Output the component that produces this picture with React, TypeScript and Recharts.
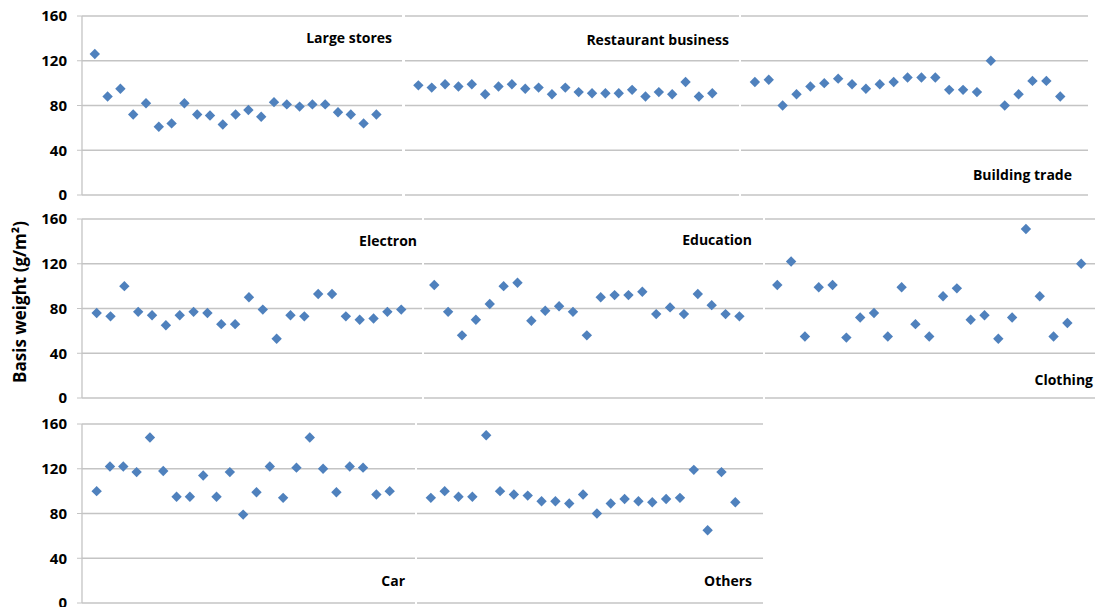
import React from 'react';
import { CartesianGrid, Scatter, ScatterChart, XAxis, YAxis } from 'recharts';

// basis weight (g/m2), one value per sample
const largeStores = [126, 88, 95, 72, 82, 61, 64, 82, 72, 71, 63, 72, 76, 70, 83, 81, 79, 81, 81, 74, 72, 64, 72];
const restaurantBusiness = [98, 96, 99, 97, 99, 90, 97, 99, 95, 96, 90, 96, 92, 91, 91, 91, 94, 88, 92, 90, 101, 88, 91];
const buildingTrade = [101, 103, 80, 90, 97, 100, 104, 99, 95, 99, 101, 105, 105, 105, 94, 94, 92, 120, 80, 90, 102, 102, 88];
const electron = [76, 73, 100, 77, 74, 65, 74, 77, 76, 66, 66, 90, 79, 53, 74, 73, 93, 93, 73, 70, 71, 77, 79];
const education = [101, 77, 56, 70, 84, 100, 103, 69, 78, 82, 77, 56, 90, 92, 92, 95, 75, 81, 75, 93, 83, 75, 73];
const clothing = [101, 122, 55, 99, 101, 54, 72, 76, 55, 99, 66, 55, 91, 98, 70, 74, 53, 72, 151, 91, 55, 67, 120];
const car = [100, 122, 122, 117, 148, 118, 95, 95, 114, 95, 117, 79, 99, 122, 94, 121, 148, 120, 99, 122, 121, 97, 100];
const others = [94, 100, 95, 95, 150, 100, 97, 96, 91, 91, 89, 97, 80, 89, 93, 91, 90, 93, 94, 119, 65, 117, 90];

const yTicks = [0, 40, 80, 120, 160];
const yTitle = 'Basis weight (g/m²)';

const pointColor = '#4f81bd';
const gridColor = '#c4c4c4';
const font = '"Open Sans", "Noto Sans", sans-serif';
const PLOT_H = 179;
const PAD = 10;

const toPoints = (values: number[]) => values.map((v, i) => ({ x: i + 1, y: v }));

const panels = [
    { name: 'Large stores', values: largeStores, left: 82, right: 402, top: 16, xDomain: [0, 25], labelRight: 392, labelY: 38, first: true },
    { name: 'Restaurant business', values: restaurantBusiness, left: 405, right: 739, top: 16, xDomain: [0, 25], labelRight: 729, labelY: 40 },
    { name: 'Building trade', values: buildingTrade, left: 741, right: 1088, top: 16, xDomain: [0, 25], labelRight: 1072, labelY: 175 },
    { name: 'Electron', values: electron, left: 82, right: 422, top: 219, xDomain: [-0.06, 24.5], labelRight: 417, labelY: 241, first: true },
    { name: 'Education', values: education, left: 424, right: 763, top: 219, xDomain: [0.26, 24.7], labelRight: 752, labelY: 240 },
    { name: 'Clothing', values: clothing, left: 765, right: 1095, top: 219, xDomain: [0.11, 24.0], labelRight: 1093, labelY: 380 },
    { name: 'Car', values: car, left: 82, right: 415, top: 424, xDomain: [-0.1, 24.9], labelRight: 405, labelY: 581, first: true },
    { name: 'Others', values: others, left: 417, right: 763, top: 424, xDomain: [0, 25], labelRight: 752, labelY: 581 },
];

const Diamond = (props: any) => {
    const { cx, cy } = props;
    if (cx == null || cy == null) return null;
    const r = 5.2;
    return (
        <path
            d={`M${cx},${cy - r}L${cx + r},${cy}L${cx},${cy + r}L${cx - r},${cy}Z`}
            fill={pointColor}
        />
    );
};

export default function App() {
    return (
        <div style={{ position: 'absolute', left: 0, top: 0, width: 1101, height: 607, background: '#fff', fontFamily: font, overflow: 'hidden' }}>
            {panels.map((p) => {
                const chartLeft = p.first ? 0 : p.left;
                return (
                    <div key={p.name} style={{ position: 'absolute', left: chartLeft, top: p.top - PAD }}>
                        <ScatterChart
                            width={p.right - chartLeft}
                            height={PLOT_H + 2 * PAD}
                            margin={{ top: PAD, right: 0, bottom: PAD, left: 0 }}
                        >
                            <CartesianGrid vertical={false} stroke={gridColor} strokeWidth={1.3} />
                            <XAxis type="number" dataKey="x" domain={p.xDomain} hide allowDataOverflow />
                            <YAxis
                                type="number"
                                dataKey="y"
                                domain={[0, 160]}
                                ticks={yTicks}
                                interval={0}
                                hide={!p.first}
                                width={p.first ? p.left : 0}
                                axisLine={{ stroke: gridColor, strokeWidth: 1.3 }}
                                tickLine={{ stroke: gridColor }}
                                tickSize={5}
                                tickMargin={10}
                                tick={{ fill: '#000', fontSize: 15, fontWeight: 700, fontFamily: font }}
                            />
                            <Scatter data={toPoints(p.values)} shape={<Diamond />} isAnimationActive={false} />
                        </ScatterChart>
                    </div>
                );
            })}
            {panels.map((p) => (
                <div
                    key={p.name + '-label'}
                    style={{
                        position: 'absolute',
                        right: 1101 - p.labelRight,
                        top: p.labelY - 10,
                        lineHeight: '20px',
                        fontSize: 14,
                        fontWeight: 700,
                        color: '#000',
                        whiteSpace: 'nowrap',
                    }}
                >
                    {p.name}
                </div>
            ))}
            <div
                style={{
                    position: 'absolute',
                    left: 19,
                    top: 302,
                    transform: 'translate(-50%, -50%) rotate(-90deg)',
                    fontSize: 17,
                    fontWeight: 700,
                    whiteSpace: 'nowrap',
                    color: '#000',
                }}
            >
                {yTitle}
            </div>
        </div>
    );
}
